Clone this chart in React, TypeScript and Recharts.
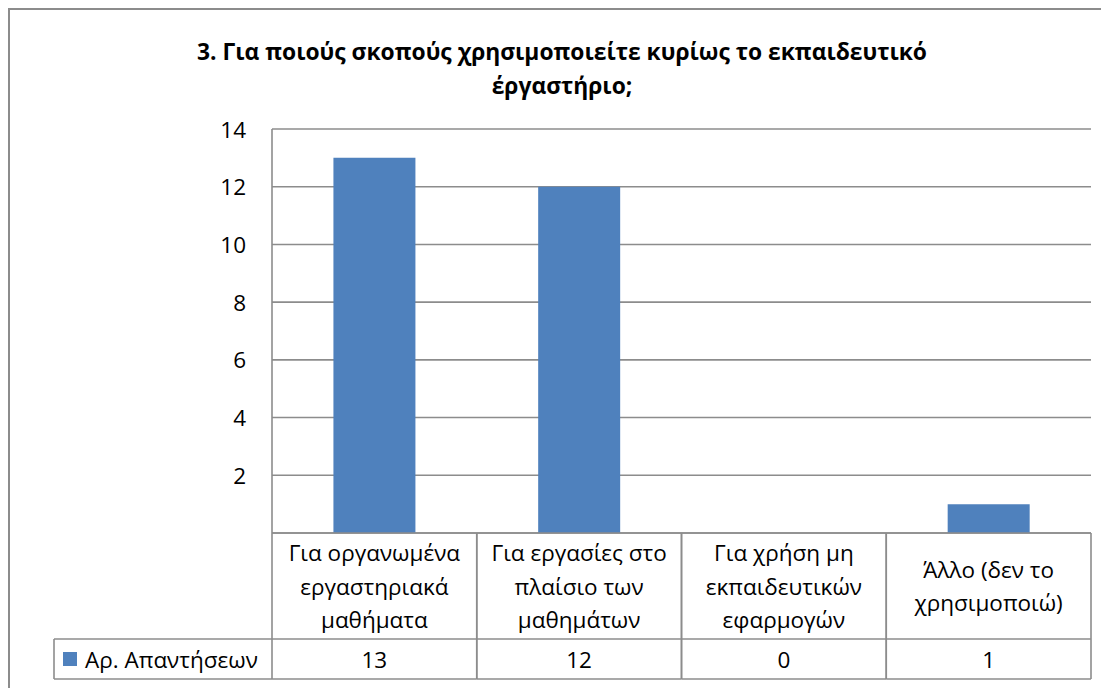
import React from "react";
import { BarChart, Bar, XAxis, YAxis, CartesianGrid } from "recharts";

const categories = [
  "Για οργανωμένα\nεργαστηριακά\nμαθήματα",
  "Για εργασίες στο\nπλαίσιο των\nμαθημάτων",
  "Για χρήση μη\nεκπαιδευτικών\nεφαρμογών",
  "Άλλο (δεν το\nχρησιμοποιώ)",
];
const values = [13, 12, 0, 1];
const seriesName = "Αρ. Απαντήσεων";
const yTicks = [0, 2, 4, 6, 8, 10, 12, 14];
const titleLines = [
  "3. Για ποιούς σκοπούς χρησιμοποιείτε κυρίως το εκπαιδευτικό",
  "έργαστήριο;",
];

const data = categories.map((c, i) => ({ category: c, value: values[i] }));

const W = 1101;
const H = 680;
const MARGIN = { top: 121, right: 18, bottom: 9, left: 204 };
const YAXIS_W = 60;
const PLOT_LEFT = MARGIN.left + YAXIS_W;
const PLOT_RIGHT = W - MARGIN.right;
const PLOT_BOTTOM = 525;
const COL_W = (PLOT_RIGHT - PLOT_LEFT) / categories.length;
const ROW_SPLIT = 631;
const TABLE_BOTTOM = 671;
const LEGEND_LEFT = 46;
const LINE = "#8c8c8c";
const BAR = "#4F81BD";
const FONT = "'Open Sans', 'Noto Sans', sans-serif";
const FS = 22.5;

const XTick = (props: any) => {
  const { x, payload } = props;
  const idx = categories.indexOf(payload.value);
  const lines = String(payload.value).split("\n");
  const l = x - COL_W / 2;
  const r = x + COL_W / 2;
  const cellCenter = (PLOT_BOTTOM + ROW_SPLIT) / 2;
  const lh = 33.5;
  const start = cellCenter - ((lines.length - 1) * lh) / 2;
  return (
    <g>
      <line x1={l} y1={PLOT_BOTTOM} x2={l} y2={TABLE_BOTTOM} stroke={LINE} strokeWidth={1.6} />
      <line x1={r} y1={PLOT_BOTTOM} x2={r} y2={TABLE_BOTTOM} stroke={LINE} strokeWidth={1.6} />
      <line x1={l} y1={ROW_SPLIT} x2={r} y2={ROW_SPLIT} stroke={LINE} strokeWidth={1.6} />
      <line x1={l} y1={TABLE_BOTTOM} x2={r} y2={TABLE_BOTTOM} stroke={LINE} strokeWidth={1.6} />
      {lines.map((t, i) => (
        <text
          key={i}
          x={x}
          y={start + i * lh}
          textAnchor="middle"
          dominantBaseline="central"
          fontFamily={FONT}
          fontSize={FS}
          fill="#000"
        >
          {t}
        </text>
      ))}
      <text
        x={x}
        y={(ROW_SPLIT + TABLE_BOTTOM) / 2}
        textAnchor="middle"
        dominantBaseline="central"
        fontFamily={FONT}
        fontSize={FS}
        fill="#000"
      >
        {values[idx]}
      </text>
      {idx === 0 && (
        <g>
          <line x1={LEGEND_LEFT} y1={ROW_SPLIT} x2={l} y2={ROW_SPLIT} stroke={LINE} strokeWidth={1.6} />
          <line x1={LEGEND_LEFT} y1={TABLE_BOTTOM} x2={l} y2={TABLE_BOTTOM} stroke={LINE} strokeWidth={1.6} />
          <line x1={LEGEND_LEFT} y1={ROW_SPLIT} x2={LEGEND_LEFT} y2={TABLE_BOTTOM} stroke={LINE} strokeWidth={1.6} />
          <rect x={LEGEND_LEFT + 9} y={(ROW_SPLIT + TABLE_BOTTOM) / 2 - 7} width={14} height={14} fill={BAR} />
          <text
            x={LEGEND_LEFT + 31}
            y={(ROW_SPLIT + TABLE_BOTTOM) / 2}
            dominantBaseline="central"
            fontFamily={FONT}
            fontSize={FS}
            fill="#000"
          >
            {seriesName}
          </text>
        </g>
      )}
    </g>
  );
};

const YTick = (props: any) => {
  const { y, payload } = props;
  if (payload.value === 0) return null;
  return (
    <text
      x={PLOT_LEFT - 26}
      y={y}
      textAnchor="end"
      dominantBaseline="central"
      fontFamily={FONT}
      fontSize={FS}
      fill="#000"
    >
      {payload.value}
    </text>
  );
};

export default function App() {
  return (
    <div style={{ position: "relative", width: W, height: H }}>
      <div
        style={{
          position: "absolute",
          left: 0,
          top: 0,
          width: W,
          height: H,
          borderTop: "2px solid #8c8c8c",
          borderLeft: "2px solid #8c8c8c",
          boxSizing: "border-box",
        }}
      />
      <div
        style={{
          position: "absolute",
          left: 0,
          top: 27,
          width: 1108,
          textAlign: "center",
          fontFamily: FONT,
          fontWeight: 700,
          fontSize: 22.8,
          lineHeight: "34px",
          color: "#000",
        }}
      >
        {titleLines.map((t, i) => (
          <div key={i}>{t}</div>
        ))}
      </div>
      <div style={{ position: "absolute", left: 0, top: 0 }}>
        <BarChart width={W} height={H} data={data} margin={MARGIN} barCategoryGap="30%">
          <CartesianGrid vertical={false} stroke={LINE} strokeWidth={1.6} />
          <XAxis
            dataKey="category"
            height={146}
            interval={0}
            tickLine={false}
            axisLine={{ stroke: LINE, strokeWidth: 1.6 }}
            tick={<XTick />}
          />
          <YAxis
            width={YAXIS_W}
            domain={[0, 14]}
            ticks={yTicks}
            interval={0}
            tickLine={false}
            axisLine={{ stroke: LINE, strokeWidth: 1.6 }}
            tick={<YTick />}
          />
          <Bar dataKey="value" name={seriesName} fill={BAR} isAnimationActive={false} />
        </BarChart>
      </div>
    </div>
  );
}
